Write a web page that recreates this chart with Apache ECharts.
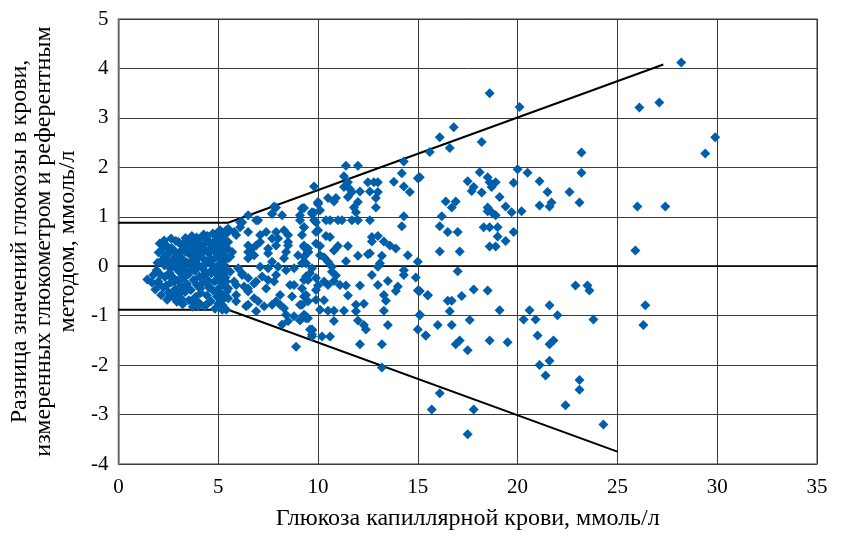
<!DOCTYPE html>
<html>
<head>
<meta charset="utf-8">
<script src="https://cdn.jsdelivr.net/npm/echarts@6/dist/echarts.min.js"></script>
<style>
html,body{margin:0;padding:0;background:#fff;}
#chart{width:843px;height:536px;}
</style>
</head>
<body>
<div id="chart"></div>
<script>
// Axis ticks
const xTicks = [0, 5, 10, 15, 20, 25, 30, 35];
const yTicks = [-4, -3, -2, -1, 0, 1, 2, 3, 4, 5];

// Limit lines [glucose, difference]
const upperLimit = [[0, 0.88], [5.5, 0.88], [27.3, 4.08]];
const lowerLimit = [[0, -0.88], [5.5, -0.88], [25.0, -3.75]];

// Dense cluster, glucose 1.5 - 5.5 mmol/l
const pointsCluster = [
  [1.45,-0.27],[1.68,-0.33],[1.75,-0.18],[1.85,-0.47],[1.92,-0.08],[1.96,0.07],
  [2.03,-0.36],[2.02,0.28],[2.07,0.46],[2.14,-0.58],[2.12,-0.17],[2.18,0.12],
  [2.26,-0.43],[2.21,0.34],[2.29,0.52],[2.33,-0.22],[2.36,0.03],[2.31,0.19],
  [2.44,-0.68],[2.41,-0.39],[2.47,0.11],[2.43,0.41],[2.52,-0.53],[2.56,-0.13],[2.55,0.27],
  [2.63,-0.33],[2.61,0.06],[2.67,0.37],[2.64,0.56],[2.74,-0.61],[2.72,-0.22],[2.78,0.16],
  [2.83,-0.47],[2.86,-0.03],[2.81,0.31],[2.88,0.51],[2.93,-0.72],[2.97,-0.29],[2.95,0.09],
  [3.04,-0.56],[3.08,-0.12],[3.02,0.22],[3.06,0.47],[3.14,-0.41],[3.13,0.01],[3.17,0.33],
  [3.22,-0.77],[3.26,-0.24],[3.21,0.14],[3.24,0.44],[3.34,-0.52],[3.31,-0.06],[3.37,0.29],[3.36,0.57],
  [3.44,-0.36],[3.42,0.08],[3.47,0.39],[3.53,-0.69],[3.52,-0.16],[3.57,0.24],[3.55,0.52],
  [3.63,-0.48],[3.66,0.02],[3.62,0.36],[3.68,0.61],[3.73,-0.82],[3.77,-0.28],[3.74,0.13],[3.78,0.46],
  [3.86,-0.62],[3.84,-0.09],[3.88,0.31],[3.93,-0.38],[3.96,0.04],[3.92,0.58],
  [4.03,-0.74],[4.06,-0.21],[4.02,0.18],[4.07,0.42],[4.13,-0.54],[4.16,-0.02],[4.12,0.56],
  [4.24,-0.33],[4.22,0.29],[4.27,0.64],[4.33,-0.81],[4.36,-0.11],[4.31,0.13],[4.38,0.47],
  [4.44,-0.59],[4.47,-0.28],[4.42,0.06],[4.46,0.61],[4.54,-0.43],[4.52,0.26],[4.57,0.49],
  [4.63,-0.71],[4.66,-0.14],[4.62,0.09],[4.68,0.38],[4.74,-0.49],[4.72,0.01],[4.77,0.32],[4.73,0.66],
  [4.84,-0.86],[4.82,-0.31],[4.87,0.17],[4.83,0.51],[4.93,-0.61],[4.96,-0.08],[4.92,0.34],[4.97,0.59],
  [5.02,-0.76],[5.04,-0.44],[5.01,-0.19],[5.06,0.04],[5.03,0.27],[5.07,0.46],[5.05,0.71],
  [5.13,-0.56],[5.16,-0.29],[5.12,-0.04],[5.17,0.16],[5.14,0.41],[5.11,0.62],
  [5.22,-0.79],[5.24,-0.38],[5.21,-0.14],[5.27,0.11],[5.23,0.31],[5.26,0.54],
  [5.33,-0.64],[5.36,-0.23],[5.31,0.02],[5.34,0.21],[5.37,0.48],[5.43,-0.51],[5.44,-0.09],[5.46,0.36],[5.42,0.66],
  [2.0,-0.31],[2.5,-0.65],[2.3,0.02],[2.5,-0.18],[3.0,0.49],[3.3,0.36],[2.9,0.12],[3.0,-0.04],
  [2.6,-0.04],[2.8,-0.31],[3.2,-0.24],[3.0,-0.45],[3.5,-0.45],[3.2,-0.68],[3.7,-0.71],
  [4.0,-0.81],[4.4,-0.78],[3.7,0.59],[4.0,0.52],[4.4,0.59],[4.8,0.63],[5.1,0.73],
  [3.5,0.29],[3.9,0.22],[4.3,0.36],[4.6,0.16],[4.0,0.02],[3.5,-0.11],[4.3,-0.18],
  [4.6,-0.11],[4.9,-0.28],[4.5,-0.38],[4.1,-0.45],[5.0,-0.51],[5.1,-0.65],[5.4,-0.88]
];

// Glucose 5.5 - 10 mmol/l
const pointsMid = [
  [5.5,0.76],[5.8,0.69],[5.3,0.42],[5.5,0.16],[5.6,-0.11],[5.8,-0.31],[5.5,-0.45],[5.9,-0.71],
  [6.5,-0.78],[6.9,-0.91],[6.2,-0.18],[6.5,-0.45],[6.9,-0.31],[7.4,-0.45],[7.8,-0.31],[8.1,-0.58],
  [7.7,-0.78],[8.3,-0.85],[8.5,-1.11],[8.8,-1.01],[9.2,-0.78],[9.4,-1.05],[9.6,-1.28],[9.7,-1.38],
  [7.5,0.36],[8.0,0.56],[8.5,0.49],[8.3,0.16],[9.0,0.22],[9.5,0.36],[9.2,0.06],[9.7,-0.04],
  [9.5,-0.28],[8.8,-0.38],[6.7,0.36],[7.1,0.63],[6.5,0.16],[7.1,-0.01],[7.7,0.09],
  [9.8,1.61],[10.0,1.30],[9.2,1.17],[9.7,1.09],[7.8,1.21],[8.2,1.03],[7.7,1.06],[6.5,1.03],
  [6.9,0.93],[6.1,0.89],[9.1,1.03],
  [7.9,1.19],[7.7,1.06],[9.2,1.16],[9.7,1.06],[10.0,1.26],[6.2,0.89],[7.0,0.93],[9.1,0.93],
  [9.9,0.89],[5.4,0.73],[6.1,0.79],[6.5,0.69],[5.9,0.63],[5.2,0.59],[7.4,0.69],[7.9,0.69],
  [7.7,0.56],[8.3,0.73],[8.5,0.63],[9.3,0.79],[9.2,0.63],[9.9,0.69],[5.0,0.42],[5.5,0.49],
  [5.7,0.29],[5.6,0.19],[5.2,0.16],[6.5,0.42],[6.9,0.42],[7.1,0.49],[6.5,0.29],[6.8,0.22],
  [7.5,0.26],[7.9,0.42],[8.5,0.42],[8.4,0.29],[9.3,0.39],[9.5,0.29],[9.3,0.19],[9.9,0.46],
  [5.0,-0.08],[5.2,-0.11],[5.0,-0.24],[5.4,-0.31],[6.0,-0.04],[6.2,-0.14],[6.5,-0.24],
  [5.9,-0.38],[6.3,-0.41],[6.8,-0.35],[7.2,-0.21],[7.5,-0.04],[8.0,-0.01],[7.9,-0.18],
  [8.4,-0.08],[7.5,-0.28],[8.8,-0.04],[8.6,-0.38],[9.4,-0.21],[9.9,-0.24],[5.5,-0.65],
  [5.9,-0.58],[6.5,-0.51],[7.0,-0.71],[6.8,-0.65],[7.3,-0.81],[7.9,-0.71],[8.1,-0.78],
  [8.7,-0.61],[9.3,-0.61],[9.9,-0.68],[6.4,-0.81],[5.2,-0.88],[8.4,-0.98],[9.4,-1.01],
  [8.2,-1.18],[9.7,-1.28],[8.9,-1.63],[9.8,1.08],[9.3,1.18],[9.3,0.42],[9.5,0.29],[9.4,0.06],
  [9.6,-0.14],[9.3,-0.28],[9.2,-0.45],[9.4,-0.58],[9.5,-0.71],[9.1,-0.78],[9.3,-0.98],
  [9.5,-1.05],[9.1,-1.10],[9.7,-1.30],[9.7,-1.42]
];

// Glucose 10 - 15 mmol/l
const pointsHigh = [
  [11.4,2.03],[12.0,2.03],[14.3,2.12],[14.2,1.88],[15.0,1.78],[11.3,1.82],[11.5,1.70],
  [11.6,1.56],[11.3,1.60],[11.7,1.50],[12.1,1.51],[12.5,1.70],[13.0,1.70],[12.8,1.70],
  [12.6,1.51],[13.0,1.50],[12.9,1.38],[13.8,1.71],[14.3,1.61],[14.6,1.50],[10.5,1.38],
  [10.8,1.31],[10.9,1.38],[11.5,1.40],[12.0,1.30],[11.8,1.19],[10.0,1.28],[10.1,1.13],
  [12.9,1.19],[11.9,1.09],[9.8,0.93],[10.4,0.93],[10.6,0.93],[11.0,0.93],[11.2,0.93],
  [11.7,0.93],[12.0,0.93],[12.6,0.93],[14.3,1.01],[14.2,0.81],[10.0,0.73],[10.4,0.61],
  [10.6,0.59],[9.3,0.79],[12.7,0.59],[13.0,0.61],[12.7,0.50],[13.3,0.50],[13.6,0.42],
  [13.9,0.36],[10.1,0.41],[11.0,0.41],[11.5,0.41],[10.8,0.32],[9.5,0.29],[10.1,0.22],
  [10.3,0.18],[12.0,0.21],[12.5,0.24],[12.6,0.26],[13.2,0.21],[14.5,0.22],[10.5,0.09],
  [11.4,0.10],[13.1,0.06],[15.0,0.09],[10.7,-0.01],[13.0,-0.01],[10.7,-0.11],[14.3,-0.08],
  [10.9,-0.19],[12.7,-0.18],[14.3,-0.18],[14.9,-0.23],[13.5,-0.30],[10.8,-0.30],[10.3,-0.31],
  [12.1,-0.39],[13.0,-0.38],[10.0,-0.39],[10.5,-0.38],[11.1,-0.38],[11.4,-0.39],[14.0,-0.41],
  [13.9,-0.50],[15.0,-0.49],[9.9,-0.48],[11.5,-0.59],[13.3,-0.58],[13.4,-0.70],[15.5,-0.58],
  [10.3,-0.69],[12.3,-0.76],[11.9,-0.78],[10.1,-0.88],[10.5,-0.90],[10.8,-0.90],[11.3,-0.90],
  [11.9,-0.91],[13.3,-0.90],[15.1,-0.98],[10.8,-1.11],[12.0,-1.10],[12.3,-1.19],[12.4,-1.28],
  [13.5,-1.19],[15.0,-1.28],[15.4,-1.40],[10.2,-1.42],[10.6,-1.42],[12.1,-1.58],[13.2,-1.58],
  [13.2,-2.05]
];

// Glucose above 15 mmol/l
const pointsVeryHigh = [
  [18.6,3.50],[20.1,3.22],[16.8,2.81],[16.1,2.61],[15.6,2.31],[16.6,2.39],[18.2,2.51],
  [23.2,2.30],[23.2,1.89],[15.1,1.80],[20.0,1.96],[20.5,1.89],[18.1,1.90],[17.5,1.72],
  [18.5,1.80],[18.6,1.70],[18.9,1.70],[18.7,1.60],[17.8,1.60],[17.7,1.52],[18.2,1.49],
  [19.8,1.69],[21.1,1.72],[21.5,1.50],[22.6,1.50],[19.1,1.40],[16.4,1.31],[16.9,1.31],
  [16.7,1.19],[19.4,1.21],[21.1,1.23],[21.7,1.29],[21.6,1.21],[23.1,1.29],[18.5,1.19],
  [18.5,1.11],[18.7,1.09],[18.9,1.03],[19.7,1.09],[20.2,1.11],[16.2,1.01],[16.1,0.81],
  [16.5,0.69],[17.0,0.69],[18.3,0.79],[18.6,0.79],[19.0,0.79],[19.0,0.60],[19.4,0.51],
  [19.8,0.69],[18.6,0.40],[18.9,0.40],[16.1,0.30],[17.1,0.30],[17.0,-0.10],[15.5,-0.59],
  [15.1,-0.50],[16.5,-0.70],[16.7,-0.70],[17.2,-0.60],[17.8,-0.47],[18.5,-0.49],[16.6,-0.91],
  [19.1,-0.89],[15.1,-0.99],[16.0,-1.19],[16.7,-1.19],[17.6,-1.09],[15.4,-1.40],[16.9,-1.58],
  [17.1,-1.50],[17.5,-1.70],[18.6,-1.50],[19.5,-1.54],[20.6,-0.89],[20.3,-1.08],[20.9,-1.08],
  [21.6,-0.79],[22.0,-0.99],[22.9,-0.39],[23.5,-0.39],[23.6,-0.49],[23.8,-1.08],[21.0,-1.40],
  [21.6,-1.58],[21.8,-1.50],[21.6,-1.91],[21.1,-2.00],[21.4,-2.21],[23.1,-2.30],[23.1,-2.50],
  [22.4,-2.81],[24.3,-3.20],[16.1,-2.57],[15.7,-2.90],[17.8,-2.90],[17.5,-3.40],
  [28.2,4.12],[26.1,3.21],[27.1,3.31],[29.9,2.61],[29.4,2.28],[26.0,1.21],[27.4,1.21],
  [25.9,0.32],[26.4,-0.79],[26.3,-1.19]
];

const serif = '"Liberation Serif", "DejaVu Serif", serif';
const markerColor = '#005fab';

const chart = echarts.init(document.getElementById('chart'), null, {renderer: 'canvas'});

const scatterSeries = [pointsCluster, pointsMid, pointsHigh, pointsVeryHigh].map(d => ({
  type: 'scatter',
  data: d,
  symbol: 'diamond',
  symbolSize: 10,
  itemStyle: {color: markerColor, opacity: 1},
  z: 3
}));

chart.setOption({
  animation: false,
  backgroundColor: '#ffffff',
  grid: {
    left: 117, right: 26, top: 19, bottom: 69,
    show: true, borderColor: '#7a7a7a', borderWidth: 1.5
  },
  xAxis: {
    type: 'value',
    min: xTicks[0], max: xTicks[xTicks.length - 1], interval: 5,
    name: 'Глюкоза капиллярной крови, ммоль/л',
    nameLocation: 'middle',
    nameGap: 43,
    nameTextStyle: {fontFamily: serif, fontSize: 24, color: '#000'},
    axisLine: {show: true, lineStyle: {color: '#000', width: 1.5}},
    axisTick: {show: false},
    axisLabel: {fontFamily: serif, fontSize: 21, color: '#000', margin: 13},
    splitLine: {show: true, lineStyle: {color: '#3a3a3a', width: 1}}
  },
  yAxis: {
    type: 'value',
    min: yTicks[0], max: yTicks[yTicks.length - 1], interval: 1,
    name: 'Разница значений глюкозы в крови,\nизмеренных глюкометром и референтным\nметодом, ммоль/л',
    nameLocation: 'middle',
    nameGap: 31,
    nameTextStyle: {fontFamily: serif, fontSize: 24, color: '#000', lineHeight: 24, align: 'center'},
    axisLine: {show: true, lineStyle: {color: '#7a7a7a', width: 1.5}},
    axisTick: {show: false},
    axisLabel: {fontFamily: serif, fontSize: 21, color: '#000', margin: 10},
    splitLine: {show: true, lineStyle: {color: '#3a3a3a', width: 1}}
  },
  series: [
    {type: 'line', data: upperLimit, symbol: 'none', lineStyle: {color: '#000', width: 2}, z: 2, silent: true},
    {type: 'line', data: lowerLimit, symbol: 'none', lineStyle: {color: '#000', width: 2}, z: 2, silent: true}
  ].concat(scatterSeries)
});
</script>
</body>
</html>
